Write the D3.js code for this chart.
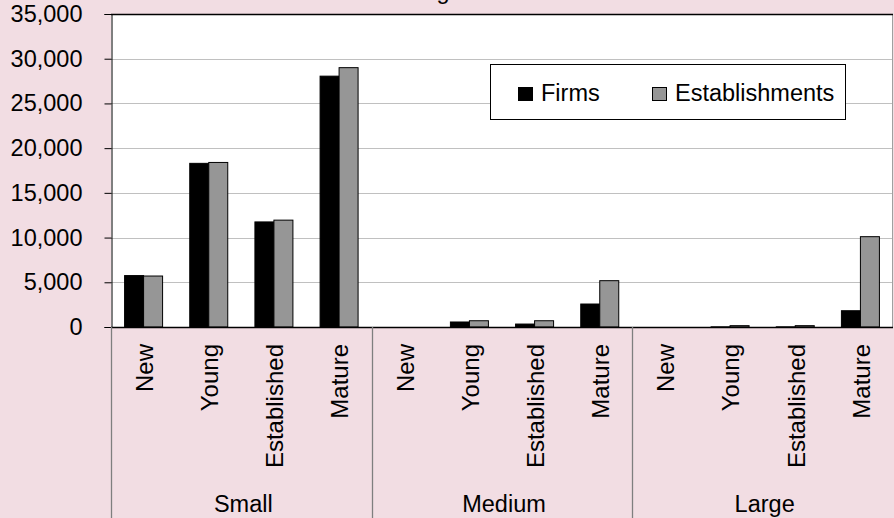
<!DOCTYPE html>
<html>
<head>
<meta charset="utf-8">
<script src="https://cdn.jsdelivr.net/npm/d3@7"></script>
<style>
  html, body { margin: 0; padding: 0; background: #f2dde3; }
  svg { display: block; font-family: "Liberation Sans", Arial, sans-serif; }
</style>
</head>
<body>
<svg id="chart" width="894" height="518"></svg>
<script>
const sizes = ["Small", "Medium", "Large"];
const ages = ["New", "Young", "Established", "Mature"];
const seriesNames = ["Firms", "Establishments"];
const firms = [5750, 18300, 11750, 28050, 0, 560, 330, 2570, 0, 20, 20, 1820];
const establishments = [5700, 18400, 11950, 29000, 0, 700, 700, 5180, 0, 150, 150, 10100];
const yTicks = [0, 5000, 10000, 15000, 20000, 25000, 30000, 35000];
const colors = ["#000000", "#969696"];

(function () {
const rows = [];
sizes.forEach((s, gi) => ages.forEach((a, ai) => {
  const i = gi * ages.length + ai;
  rows.push({ key: s + "|" + a, size: s, age: a, values: [firms[i], establishments[i]] });
}));

const svg = d3.select("#chart");
const W = 894, H = 518;
const pL = 111, pR = 893, pT = 14, pB = 327;
const FS = 23.5, FSC = 24;

svg.append("rect").attr("width", W).attr("height", H).attr("fill", "#f2dde3");
svg.append("rect").attr("x", pL).attr("y", pT).attr("width", pR - pL).attr("height", pB - pT).attr("fill", "#ffffff");

const y = d3.scaleLinear().domain([0, 35000]).range([pB, pT]);
const x = d3.scaleBand().domain(rows.map(d => d.key)).range([pL, pR]).paddingInner(0).paddingOuter(0);
const xs = d3.scaleBand().domain(seriesNames).range([0, x.bandwidth()]).paddingInner(0).paddingOuter(0.715);
const xg = d3.scaleBand().domain(sizes).range([pL, pR]);

// title (cut off at top, as in the reference)
svg.append("text").attr("x", 443).attr("y", -1.5).attr("text-anchor", "middle")
  .attr("font-size", FS).attr("fill", "#000").text("g");

// gridlines
svg.append("g").selectAll("line").data(yTicks.filter(t => t > 0 && t < 35000)).join("line")
  .attr("x1", pL).attr("x2", pR)
  .attr("y1", d => Math.round(y(d)) + 0.5).attr("y2", d => Math.round(y(d)) + 0.5)
  .attr("stroke", "#c0c0c0").attr("stroke-width", 1);

// right border
svg.append("line").attr("x1", pR - 0.5).attr("x2", pR - 0.5).attr("y1", pT).attr("y2", pB)
  .attr("stroke", "#a0a0a0");
// top border
svg.append("line").attr("x1", pL).attr("x2", pR).attr("y1", pT + 0.5).attr("y2", pT + 0.5)
  .attr("stroke", "#000").attr("stroke-width", 1.5);

// bars
const cat = svg.append("g").selectAll("g").data(rows).join("g")
  .attr("transform", d => `translate(${x(d.key)},0)`);
cat.selectAll("rect").data(d => d.values.map((v, i) => ({ v, s: seriesNames[i], i }))).join("rect")
  .attr("x", d => xs(d.s))
  .attr("width", xs.bandwidth())
  .attr("y", d => y(d.v))
  .attr("height", d => pB - y(d.v))
  .attr("fill", d => colors[d.i])
  .attr("stroke", "#000").attr("stroke-width", 1);

// y axis
const yAxis = d3.axisLeft(y).tickValues(yTicks).tickFormat(d3.format(",")).tickSize(7).tickPadding(22);
const ya = svg.append("g").attr("transform", `translate(${pL + 0.5},0)`).call(yAxis);
ya.select(".domain").attr("stroke", "#000");
ya.selectAll(".tick line").attr("stroke", "#000");
ya.selectAll(".tick text").attr("font-size", FS).attr("fill", "#000")
  .attr("font-family", "'Liberation Sans', Arial, sans-serif");

// x baseline
svg.append("line").attr("x1", pL).attr("x2", pR).attr("y1", pB + 0.5).attr("y2", pB + 0.5)
  .attr("stroke", "#000").attr("stroke-width", 1.5);

// group separators below axis
const seps = [pL, xg("Medium"), xg("Large")];
svg.append("g").selectAll("line").data(seps).join("line")
  .attr("x1", d => Math.round(d) + 0.5).attr("x2", d => Math.round(d) + 0.5)
  .attr("y1", pB).attr("y2", H)
  .attr("stroke", "#7f7f7f").attr("stroke-width", 1.3);

// category labels (rotated)
svg.append("g").selectAll("text").data(rows).join("text")
  .attr("transform", d => `translate(${x(d.key) + x.bandwidth() / 2 + 1},344) rotate(-90)`)
  .attr("text-anchor", "end").attr("dy", "0.35em")
  .attr("font-size", FSC).attr("fill", "#000")
  .text(d => d.age);

// group labels
svg.append("g").selectAll("text").data(sizes).join("text")
  .attr("x", d => xg(d) + xg.bandwidth() / 2 + 2).attr("y", 512)
  .attr("text-anchor", "middle").attr("font-size", FS).attr("fill", "#000")
  .text(d => d);

// legend
const lg = svg.append("g");
lg.append("rect").attr("x", 490.5).attr("y", 64.5).attr("width", 355).attr("height", 55)
  .attr("fill", "#fff").attr("stroke", "#000").attr("stroke-width", 1);
const legX = [518, 652];
const items = lg.selectAll("g").data(seriesNames).join("g")
  .attr("transform", (d, i) => `translate(${legX[i]},0)`);
items.append("rect").attr("x", 0.5).attr("y", 87.5).attr("width", 14).attr("height", 13)
  .attr("fill", (d, i) => colors[i]).attr("stroke", "#000");
items.append("text").attr("x", 23).attr("y", 101).attr("font-size", FS).attr("fill", "#000")
  .text(d => d);
})();
</script>
</body>
</html>
